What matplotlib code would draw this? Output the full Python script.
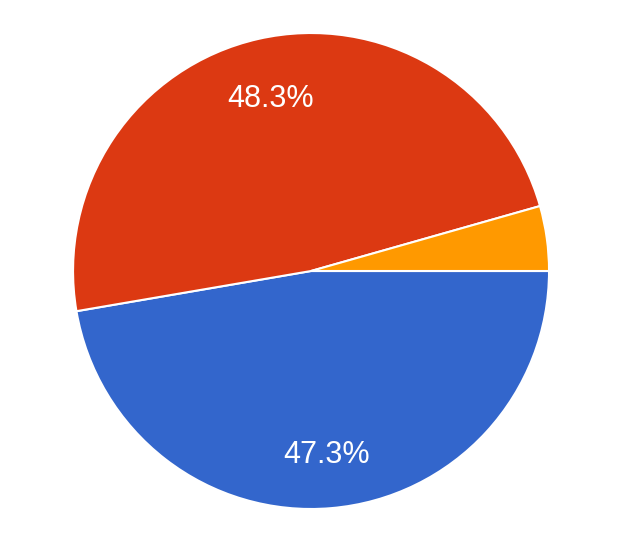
import matplotlib
matplotlib.use("Agg")
import matplotlib.pyplot as plt
from matplotlib.transforms import offset_copy

# Slice data (clockwise from 3 o'clock)
labels = ["Blue", "Red", "Orange"]
values = [47.3, 48.3, 4.4]
colors = ["#3366cc", "#dc3912", "#ff9900"]

plt.rcParams["font.family"] = ["Liberation Sans", "DejaVu Sans"]

fig = plt.figure(figsize=(6.4, 5.35), dpi=100)
ax = fig.add_axes([0.114, 0.0486, 0.744, 0.8897])


def pct_label(p):
    # small slices get no label
    return f"{p:.1f}%" if p >= 5 else ""


wedges, texts, autotexts = ax.pie(
    values,
    colors=colors,
    startangle=0,
    counterclock=False,
    autopct=pct_label,
    pctdistance=0.76,
    wedgeprops={"edgecolor": "white", "linewidth": 1.5},
    textprops={"color": "white", "fontsize": 22},
)
# nudge labels down a little
for t in autotexts:
    t.set_transform(offset_copy(ax.transData, fig=fig, y=-3, units="points"))

ax.set_xlim(-1, 1)
ax.set_ylim(-1, 1)
ax.set_aspect("equal")

fig.savefig("out.png", dpi=100)
